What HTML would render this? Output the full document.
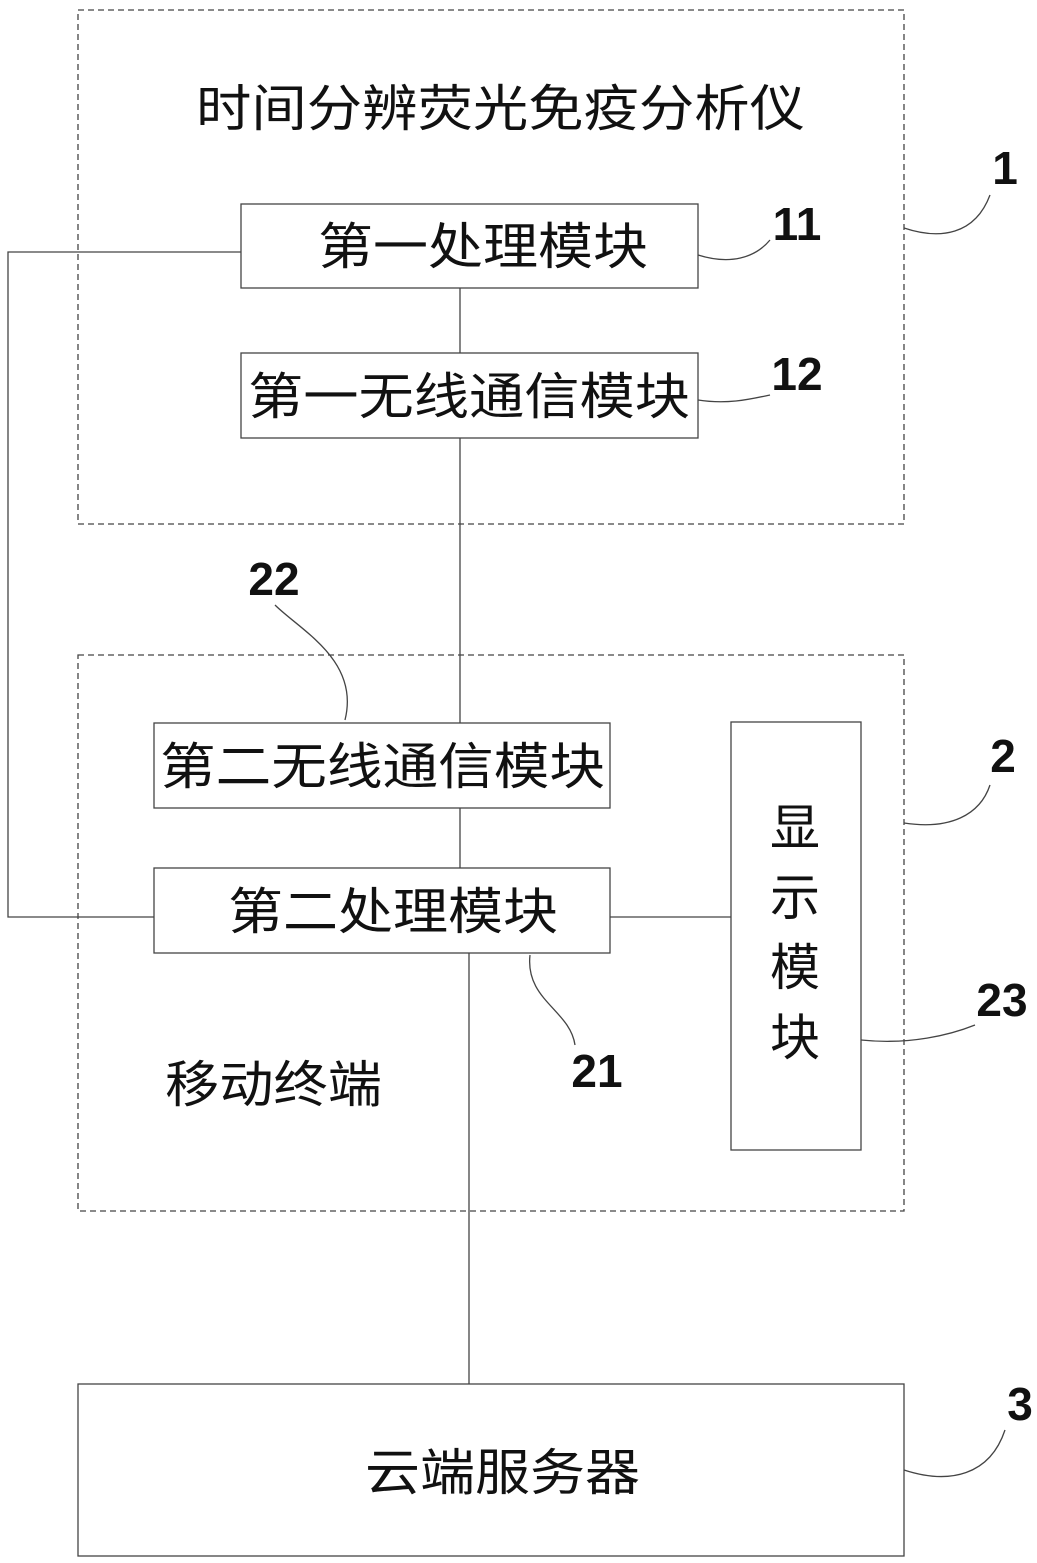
<!DOCTYPE html>
<html><head><meta charset="utf-8"><style>
body{margin:0;background:#fff}
svg{display:block}
text{font-family:"Liberation Sans","Noto Sans CJK SC",sans-serif;fill:#111}
.n{font-weight:bold;font-size:46px}
</style></head><body>
<svg width="1037" height="1563" viewBox="0 0 1037 1563">
<g fill="none" stroke="#444" stroke-width="1.3">
<rect x="78" y="10" width="826" height="514" stroke-dasharray="6,4"/>
<rect x="78" y="655" width="826" height="556" stroke-dasharray="6,4"/>
<rect x="241" y="204" width="457" height="84"/>
<rect x="241" y="353" width="457" height="85"/>
<rect x="154" y="723" width="456" height="85"/>
<rect x="154" y="868" width="456" height="85"/>
<rect x="731" y="722" width="130" height="428"/>
<rect x="78" y="1384" width="826" height="172"/>
<path d="M460 288V353M460 438V723M460 808V868M241 252H8V917H154M610 917H731M469 953V1384"/>
<path d="M904 228C940 240 975 235 990 195"/>
<path d="M698 255C730 265 755 258 770 240"/>
<path d="M698 400C730 405 755 398 770 395"/>
<path d="M345 720C360 660 300 630 275 605"/>
<path d="M904 823C950 830 980 815 990 785"/>
<path d="M861 1040C910 1045 950 1035 975 1025"/>
<path d="M530 955C525 1000 570 1010 575 1045"/>
<path d="M904 1470C950 1485 990 1475 1005 1430"/>
</g>
<g font-size="50" lengthAdjust="spacingAndGlyphs">
<text x="196" y="126" textLength="609" lengthAdjust="spacingAndGlyphs">时间分辨荧光免疫分析仪</text>
<text x="318" y="264" textLength="330" lengthAdjust="spacingAndGlyphs">第一处理模块</text>
<text x="248" y="414" textLength="442" lengthAdjust="spacingAndGlyphs">第一无线通信模块</text>
<text x="160" y="784" textLength="445" lengthAdjust="spacingAndGlyphs">第二无线通信模块</text>
<text x="228" y="929" textLength="330" lengthAdjust="spacingAndGlyphs">第二处理模块</text>
<text x="770" y="845">显</text>
<text x="770" y="915">示</text>
<text x="770" y="985">模</text>
<text x="770" y="1055">块</text>
<text x="365" y="1490" textLength="275" lengthAdjust="spacingAndGlyphs">云端服务器</text>
<text x="165" y="1102" textLength="217" lengthAdjust="spacingAndGlyphs">移动终端</text>
</g>
<g text-anchor="middle">
<text class="n" x="1005" y="184">1</text>
<text class="n" x="797" y="240">11</text>
<text class="n" x="797" y="390">12</text>
<text class="n" x="274" y="595">22</text>
<text class="n" x="1003" y="772">2</text>
<text class="n" x="1002" y="1016">23</text>
<text class="n" x="597" y="1087">21</text>
<text class="n" x="1020" y="1420">3</text>
</g>
</svg>
</body></html>
